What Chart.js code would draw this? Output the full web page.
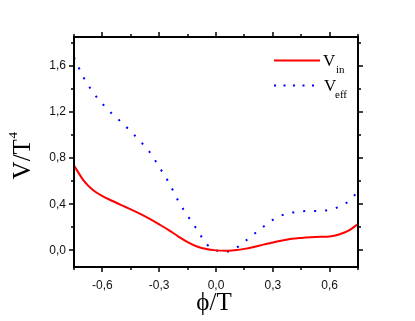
<!DOCTYPE html>
<html>
<head>
<meta charset="utf-8">
<script src="https://cdn.jsdelivr.net/npm/chart.js@4"></script>
<style>
html,body{margin:0;padding:0;background:#fff;}
#wrap{position:relative;width:415px;height:321px;}
</style>
</head>
<body>
<div id="wrap"><canvas id="c" width="415" height="321"></canvas></div>
<script>
// ---- data ----
const phiValues = [-0.75,-0.70,-0.65,-0.60,-0.55,-0.50,-0.45,-0.40,-0.35,-0.30,-0.25,-0.20,-0.15,-0.10,-0.05,0.00,0.05,0.10,0.15,0.20,0.25,0.30,0.35,0.40,0.45,0.50,0.55,0.60,0.65,0.70,0.75];
const vIn  = [0.735,0.607,0.523,0.470,0.430,0.392,0.355,0.316,0.272,0.225,0.176,0.122,0.072,0.034,0.011,0.000,-0.004,0.002,0.013,0.030,0.050,0.068,0.086,0.100,0.108,0.114,0.118,0.121,0.138,0.170,0.228];
const vEff = [1.670,1.500,1.370,1.270,1.185,1.110,1.030,0.945,0.850,0.722,0.590,0.430,0.300,0.180,0.055,0.000,-0.012,0.015,0.075,0.140,0.205,0.265,0.305,0.327,0.338,0.341,0.342,0.352,0.377,0.425,0.510];
const xTickValues = [-0.6,-0.3,0.0,0.3,0.6];
const xTickLabels = ['-0,6','-0,3','0,0','0,3','0,6'];
const xMinorValues = [-0.75,-0.45,-0.15,0.15,0.45,0.75];
const yTickValues = [0.0,0.4,0.8,1.2,1.6];
const yTickLabels = ['0,0','0,4','0,8','1,2','1,6'];
const yMinorValues = [0.2,0.6,1.0,1.4,1.8];
const seriesNames = ['V','V'];
const seriesSubs = ['in','eff'];
const xTitle = 'ϕ/T';
const yTitleMain = 'V/T';
const yTitleSup = '4';

const RED = 'rgb(255,0,0)';
const BLUE = 'rgb(0,0,255)';

const framePlugin = {
  id: 'frame',
  afterDraw(chart) {
    const ctx = chart.ctx;
    const a = chart.chartArea;
    const xs = chart.scales.x, ys = chart.scales.y;
    ctx.save();
    ctx.strokeStyle = '#000';
    ctx.lineWidth = 2;
    ctx.strokeRect(a.left, a.top, a.right - a.left, a.bottom - a.top);
    ctx.lineWidth = 1.5;
    const tick = (x1,y1,x2,y2)=>{ctx.beginPath();ctx.moveTo(x1,y1);ctx.lineTo(x2,y2);ctx.stroke();};
    const drawX = (v,len)=>{
      const px = Math.round(xs.getPixelForValue(v));
      tick(px,a.bottom,px,a.bottom+len);
      tick(px,a.top,px,a.top-len);
    };
    const drawY = (v,len)=>{
      const py = Math.round(ys.getPixelForValue(v));
      tick(a.left,py,a.left-len,py);
      tick(a.right,py,a.right+len,py);
    };
    xTickValues.forEach(v=>drawX(v,5));
    xMinorValues.forEach(v=>drawX(v,3));
    yTickValues.forEach(v=>drawY(v,5));
    yMinorValues.forEach(v=>drawY(v,3));

    // axis titles
    ctx.fillStyle = '#000';
    ctx.textBaseline = 'alphabetic';
    ctx.font = '25px "Liberation Serif"';
    ctx.textAlign = 'center';
    ctx.fillText(xTitle, 214, 310);

    ctx.save();
    ctx.translate(30, 156);
    ctx.rotate(-Math.PI/2);
    ctx.font = '25px "Liberation Serif"';
    const wMain = ctx.measureText(yTitleMain).width;
    ctx.font = '13px "Liberation Serif"';
    const wSup = ctx.measureText(yTitleSup).width;
    const start = -(wMain + wSup)/2;
    ctx.textAlign = 'left';
    ctx.font = '25px "Liberation Serif"';
    ctx.fillText(yTitleMain, start, 0);
    ctx.font = '13px "Liberation Serif"';
    ctx.fillText(yTitleSup, start + wMain + 0.5, -13);
    ctx.restore();

    // legend
    ctx.textAlign = 'left';
    ctx.lineWidth = 2;
    ctx.strokeStyle = RED;
    ctx.beginPath(); ctx.moveTo(274,60.5); ctx.lineTo(320,60.5); ctx.stroke();
    ctx.strokeStyle = BLUE;
    ctx.setLineDash([2,7.5]);
    ctx.beginPath(); ctx.moveTo(274,85.5); ctx.lineTo(316,85.5); ctx.stroke();
    ctx.setLineDash([]);
    ctx.fillStyle = '#000';
    ctx.font = '17px "Liberation Serif"';
    ctx.fillText(seriesNames[0], 323, 66);
    ctx.fillText(seriesNames[1], 324, 91);
    ctx.font = '11px "Liberation Serif"';
    ctx.fillText(seriesSubs[0], 336, 73);
    ctx.fillText(seriesSubs[1], 335, 98);
    ctx.restore();
  }
};

new Chart(document.getElementById('c'), {
  type: 'line',
  data: {
    datasets: [
      { label: 'V_in', data: phiValues.map((x,i)=>({x, y: vIn[i]})), borderColor: RED, borderWidth: 2, pointRadius: 0, cubicInterpolationMode: 'monotone', fill: false },
      { label: 'V_eff', data: phiValues.map((x,i)=>({x, y: vEff[i]})), borderColor: BLUE, borderWidth: 2, borderDash: [2,9], pointRadius: 0, cubicInterpolationMode: 'monotone', fill: false }
    ]
  },
  options: {
    responsive: false,
    animation: false,
    devicePixelRatio: 1,
    layout: { padding: { left: 0, top: 37, right: 57, bottom: 0 } },
    plugins: { legend: { display: false }, tooltip: { enabled: false } },
    scales: {
      x: {
        type: 'linear', min: -0.75, max: 0.75,
        afterBuildTicks: s => { s.ticks = xTickValues.map(v=>({value:v})); },
        afterFit: s => { s.height = 54; },
        grid: { display: false, drawTicks: false },
        border: { display: false },
        ticks: { padding: 11, color: '#111', font: { family: '"Liberation Sans"', size: 12 },
                 callback: (v) => xTickLabels[xTickValues.findIndex(t=>Math.abs(t-v)<1e-6)] }
      },
      y: {
        type: 'linear', min: -0.144, max: 1.848,
        afterBuildTicks: s => { s.ticks = yTickValues.map(v=>({value:v})); },
        afterFit: s => { s.width = 74; },
        grid: { display: false, drawTicks: false },
        border: { display: false },
        ticks: { padding: 8, color: '#111', font: { family: '"Liberation Sans"', size: 12 },
                 callback: (v) => yTickLabels[yTickValues.findIndex(t=>Math.abs(t-v)<1e-6)] }
      }
    }
  },
  plugins: [framePlugin]
});
</script>
</body>
</html>
